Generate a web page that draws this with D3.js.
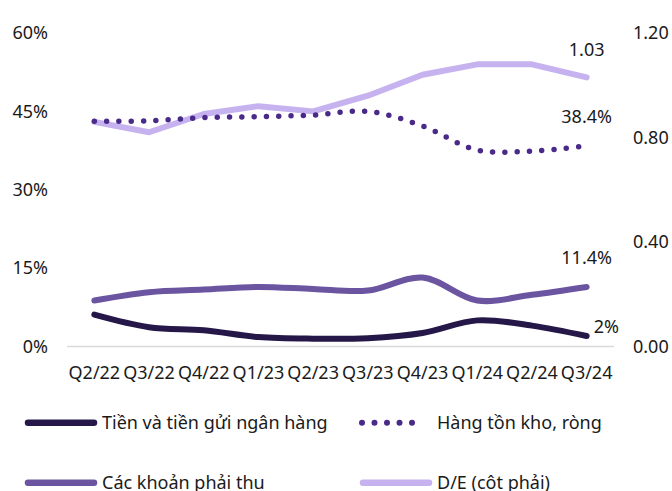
<!DOCTYPE html>
<html>
<head>
<meta charset="utf-8">
<script src="https://cdn.jsdelivr.net/npm/d3@7"></script>
<style>
  html, body { margin: 0; padding: 0; background: #fff; }
  svg { display: block; }
  text { font-family: "Noto Sans", sans-serif; fill: #1a1a1a; }
</style>
</head>
<body>
<svg id="chart" width="672" height="491"></svg>
<script>
// Quarters on the x axis
const quarters = ["Q2/22","Q3/22","Q4/22","Q1/23","Q2/23","Q3/23","Q4/23","Q1/24","Q2/24","Q3/24"];

// Share of total assets (%), left axis
const cash        = [6.1, 3.7, 3.1, 1.8, 1.5, 1.6, 2.6, 5.0, 4.0, 2.0];
const inventory   = [43.1, 43.2, 43.8, 44.0, 44.3, 45.0, 42.2, 37.6, 37.4, 38.4];
const receivables = [8.8, 10.4, 10.9, 11.4, 11.0, 10.7, 13.2, 8.8, 9.9, 11.4];

// Debt-to-equity ratio, right axis
const debtEquity  = [0.86, 0.82, 0.89, 0.92, 0.90, 0.96, 1.04, 1.08, 1.08, 1.03];

// Axis ticks
const leftTicks  = [0, 15, 30, 45, 60];
const rightTicks = [0, 0.4, 0.8, 1.2];

const svg = d3.select("#chart");
const plotTop = 33, plotBottom = 346.5;
const FONT = "18px";

const x = d3.scaleBand().domain(quarters).range([67, 614]);
const xc = d => x(d) + x.bandwidth() / 2;
const yL = d3.scaleLinear().domain([0, 60]).range([plotBottom, plotTop]);
const yR = d3.scaleLinear().domain([0, 1.2]).range([plotBottom, plotTop]);

// Baseline
svg.append("line")
  .attr("x1", 67).attr("x2", 614)
  .attr("y1", yL(0)).attr("y2", yL(0))
  .attr("stroke", "#d9d9d9").attr("stroke-width", 1.5);

// Left axis labels
const axisLeft = d3.axisLeft(yL).tickValues(leftTicks).tickFormat(d => d + "%").tickSize(0).tickPadding(0);
svg.append("g").attr("transform", "translate(48,0)").call(axisLeft)
  .call(g => g.select(".domain").remove())
  .selectAll("text").style("font-size", FONT).attr("fill", "#1a1a1a");

// Right axis labels
const axisRight = d3.axisRight(yR).tickValues(rightTicks).tickFormat(d3.format(".2f")).tickSize(0).tickPadding(0);
svg.append("g").attr("transform", "translate(633,0)").call(axisRight)
  .call(g => g.select(".domain").remove())
  .selectAll("text").style("font-size", FONT).attr("fill", "#1a1a1a");

// Category axis
const axisBottom = d3.axisBottom(x).tickSize(0).tickPadding(0);
svg.append("g").attr("transform", "translate(0,373)").call(axisBottom)
  .call(g => g.select(".domain").remove())
  .selectAll("text").style("font-size", FONT).attr("dy", "0.35em").attr("fill", "#1a1a1a");

const colors = {
  cash: "#251849",
  inventory: "#4a2a88",
  receivables: "#6b54a0",
  de: "#c7b2f0"
};

const smooth = d3.curveCatmullRom.alpha(0.5);

function drawLine(values, yScale, color, curve, dotted) {
  const gen = d3.line().x((d, i) => xc(quarters[i])).y(d => yScale(d)).curve(curve);
  const p = svg.append("path").datum(values)
    .attr("d", gen)
    .attr("fill", "none")
    .attr("stroke", color)
    .attr("stroke-width", dotted ? 5.5 : 6)
    .attr("stroke-linecap", "round")
    .attr("stroke-linejoin", "round");
  if (dotted) p.attr("stroke-dasharray", "0 12.3");
}

drawLine(debtEquity, yR, colors.de, d3.curveLinear, false);
drawLine(inventory, yL, colors.inventory, smooth, true);
drawLine(receivables, yL, colors.receivables, smooth, false);
drawLine(cash, yL, colors.cash, smooth, false);

// End-of-series value labels
const last = quarters.length - 1;
const lx = xc(quarters[last]);
const endLabels = [
  { text: d3.format(".2f")(debtEquity[last]), x: lx, y: yR(debtEquity[last]) - 28, anchor: "middle" },
  { text: inventory[last].toFixed(1) + "%", x: lx, y: yL(inventory[last]) - 29, anchor: "middle" },
  { text: receivables[last].toFixed(1) + "%", x: lx, y: yL(receivables[last]) - 29, anchor: "middle" },
  { text: d3.format(".0f")(cash[last]) + "%", x: lx + 7, y: yL(cash[last]) - 9, anchor: "start" }
];
svg.selectAll("text.endlabel").data(endLabels).enter().append("text")
  .attr("class", "endlabel")
  .attr("x", d => d.x).attr("y", d => d.y)
  .attr("dy", "0.35em")
  .attr("text-anchor", d => d.anchor)
  .style("font-size", FONT)
  .text(d => d.text);

// Legend
const legend = [
  { name: "Tiền và tiền gửi ngân hàng", color: colors.cash, dotted: false, x: 25, y: 422.7 },
  { name: "Hàng tồn kho, ròng", color: colors.inventory, dotted: true, x: 360, y: 422.7 },
  { name: "Các khoản phải thu", color: colors.receivables, dotted: false, x: 25, y: 482.7 },
  { name: "D/E (côt phải)", color: colors.de, dotted: false, x: 360, y: 482.7 }
];
const lg = svg.selectAll("g.legend").data(legend).enter().append("g").attr("class", "legend");
lg.append("line")
  .attr("x1", d => d.dotted ? d.x + 2 : d.x + 3).attr("x2", d => d.dotted ? d.x + 64.5 : d.x + 69)
  .attr("y1", d => d.y).attr("y2", d => d.y)
  .attr("stroke", d => d.color)
  .attr("stroke-width", d => d.dotted ? 6 : 6.5)
  .attr("stroke-linecap", "round")
  .attr("stroke-dasharray", d => d.dotted ? "0 12.5" : null);
lg.append("text")
  .attr("x", d => d.dotted ? d.x + 77 : d.x + 77).attr("y", d => d.y)
  .attr("dy", "0.35em")
  .style("font-size", FONT)
  .text(d => d.name);
</script>
</body>
</html>
